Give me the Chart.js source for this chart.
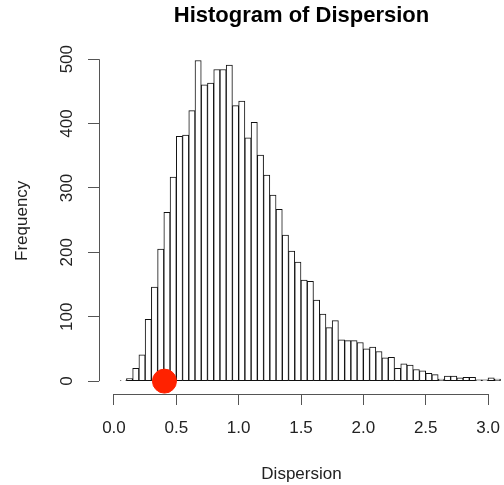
<!DOCTYPE html>
<html>
<head>
<meta charset="utf-8">
<script src="https://cdn.jsdelivr.net/npm/chart.js@4"></script>
<style>
  html, body { margin: 0; padding: 0; background: #fff; }
  #wrap { width: 504px; height: 485px; }
</style>
</head>
<body>
<div id="wrap"><canvas id="hist" width="504" height="485"></canvas></div>
<script>
// histogram bins (left edges, width 0.05) and counts
const binStart = [
  0.05, 0.10, 0.15, 0.20, 0.25, 0.30, 0.35, 0.40, 0.45, 0.50,
  0.55, 0.60, 0.65, 0.70, 0.75, 0.80, 0.85, 0.90, 0.95, 1.00,
  1.05, 1.10, 1.15, 1.20, 1.25, 1.30, 1.35, 1.40, 1.45, 1.50,
  1.55, 1.60, 1.65, 1.70, 1.75, 1.80, 1.85, 1.90, 1.95, 2.00,
  2.05, 2.10, 2.15, 2.20, 2.25, 2.30, 2.35, 2.40, 2.45, 2.50,
  2.55, 2.60, 2.65, 2.70, 2.75, 2.80, 2.85, 2.90, 2.95, 3.00,
  3.05
];
const binWidth = 0.05;
const counts = [
  1, 4, 20, 41, 96, 146, 205, 262, 317, 380,
  382, 420, 498, 460, 463, 484, 484, 491, 428, 435,
  378, 402, 351, 320, 289, 267, 227, 202, 185, 157,
  155, 126, 104, 83, 94, 64, 63, 63, 60, 50,
  53, 46, 36, 37, 20, 27, 25, 18, 16, 12,
  10, 3, 8, 8, 5, 6, 6, 2, 2, 5,
  3
];
const markerX = [0.405];
const markerY = [0];
const xTicks = [0, 0.5, 1.0, 1.5, 2.0, 2.5, 3.0];
const yTicks = [0, 100, 200, 300, 400, 500];

const FONT = '"Liberation Sans", Arial, Helvetica, sans-serif';
const AXIS_COL = '#555';

// R style axis lines: only from first to last tick
const axisLines = {
  id: 'axisLines',
  afterDraw(chart) {
    const { ctx, chartArea, scales: { x, y } } = chart;
    ctx.save();
    ctx.strokeStyle = AXIS_COL;
    ctx.lineWidth = 1;
    ctx.beginPath();
    const yb = Math.round(chartArea.bottom) + 0.5;
    ctx.moveTo(x.getPixelForValue(xTicks[0]), yb);
    ctx.lineTo(x.getPixelForValue(xTicks[xTicks.length - 1]), yb);
    const xl = Math.round(chartArea.left) + 0.5;
    ctx.moveTo(xl, y.getPixelForValue(yTicks[0]));
    ctx.lineTo(xl, y.getPixelForValue(yTicks[yTicks.length - 1]));
    ctx.stroke();
    ctx.restore();
  }
};

// main title centred over the plot region, like R does
const plotTitle = {
  id: 'plotTitle',
  afterDraw(chart) {
    const { ctx, chartArea } = chart;
    ctx.save();
    ctx.font = 'bold 22px ' + FONT;
    ctx.fillStyle = '#000';
    ctx.textAlign = 'center';
    ctx.textBaseline = 'middle';
    ctx.fillText('Histogram of Dispersion', (chartArea.left + chartArea.right) / 2, 16);
    ctx.restore();
  }
};

const noPad = s => { s.paddingLeft = 0; s.paddingRight = 0; s.paddingTop = 0; s.paddingBottom = 0; };

new Chart(document.getElementById('hist'), {
  type: 'bar',
  data: {
    datasets: [
      {
        type: 'scatter',
        data: markerX.map((v, i) => ({ x: v, y: markerY[i] })),
        backgroundColor: '#ff2200',
        borderColor: '#ff2200',
        pointRadius: 12,
        pointHoverRadius: 12,
        order: 0
      },
      {
        data: binStart.map((b, i) => ({ x: b + binWidth / 2, y: counts[i] })),
        backgroundColor: '#fff',
        borderColor: '#111',
        borderWidth: 1,
        borderSkipped: false,
        barPercentage: 1,
        categoryPercentage: 1,
        order: 1
      }
    ]
  },
  options: {
    responsive: false,
    animation: false,
    devicePixelRatio: 1,
    layout: { autoPadding: false, padding: { top: 47.6, right: 0, bottom: 0, left: 0 } },
    plugins: { legend: { display: false }, tooltip: { enabled: false }, title: { display: false } },
    scales: {
      x: {
        type: 'linear',
        min: -0.12,
        max: 3.128,
        offset: false,
        afterFit: s => { s.height = 91; noPad(s); },
        afterBuildTicks: s => { s.ticks = xTicks.map(v => ({ value: v })); },
        border: { display: false },
        grid: { display: true, drawOnChartArea: false, drawTicks: true, tickLength: 11, color: AXIS_COL, offset: false },
        ticks: {
          autoSkip: false,
          maxRotation: 0,
          padding: 13,
          color: '#222',
          font: { family: FONT, size: 17 },
          callback: v => Number(v).toFixed(1)
        },
        title: {
          display: true,
          text: 'Dispersion',
          color: '#222',
          font: { family: FONT, size: 17 },
          padding: { top: 0, bottom: 0 }
        }
      },
      y: {
        type: 'linear',
        min: -20,
        max: 518,
        afterFit: s => { s.width = 99; noPad(s); },
        afterBuildTicks: s => { s.ticks = yTicks.map(v => ({ value: v })); },
        border: { display: false },
        grid: { display: true, drawOnChartArea: false, drawTicks: true, tickLength: 11, color: AXIS_COL },
        ticks: {
          autoSkip: false,
          minRotation: 90,
          maxRotation: 90,
          crossAlign: 'center',
          padding: 7,
          color: '#222',
          font: { family: FONT, size: 17 }
        },
        title: {
          display: true,
          text: 'Frequency',
          color: '#222',
          font: { family: FONT, size: 17 },
          padding: { top: 12, bottom: 0 }
        }
      }
    }
  },
  plugins: [axisLines, plotTitle]
});
</script>
</body>
</html>
